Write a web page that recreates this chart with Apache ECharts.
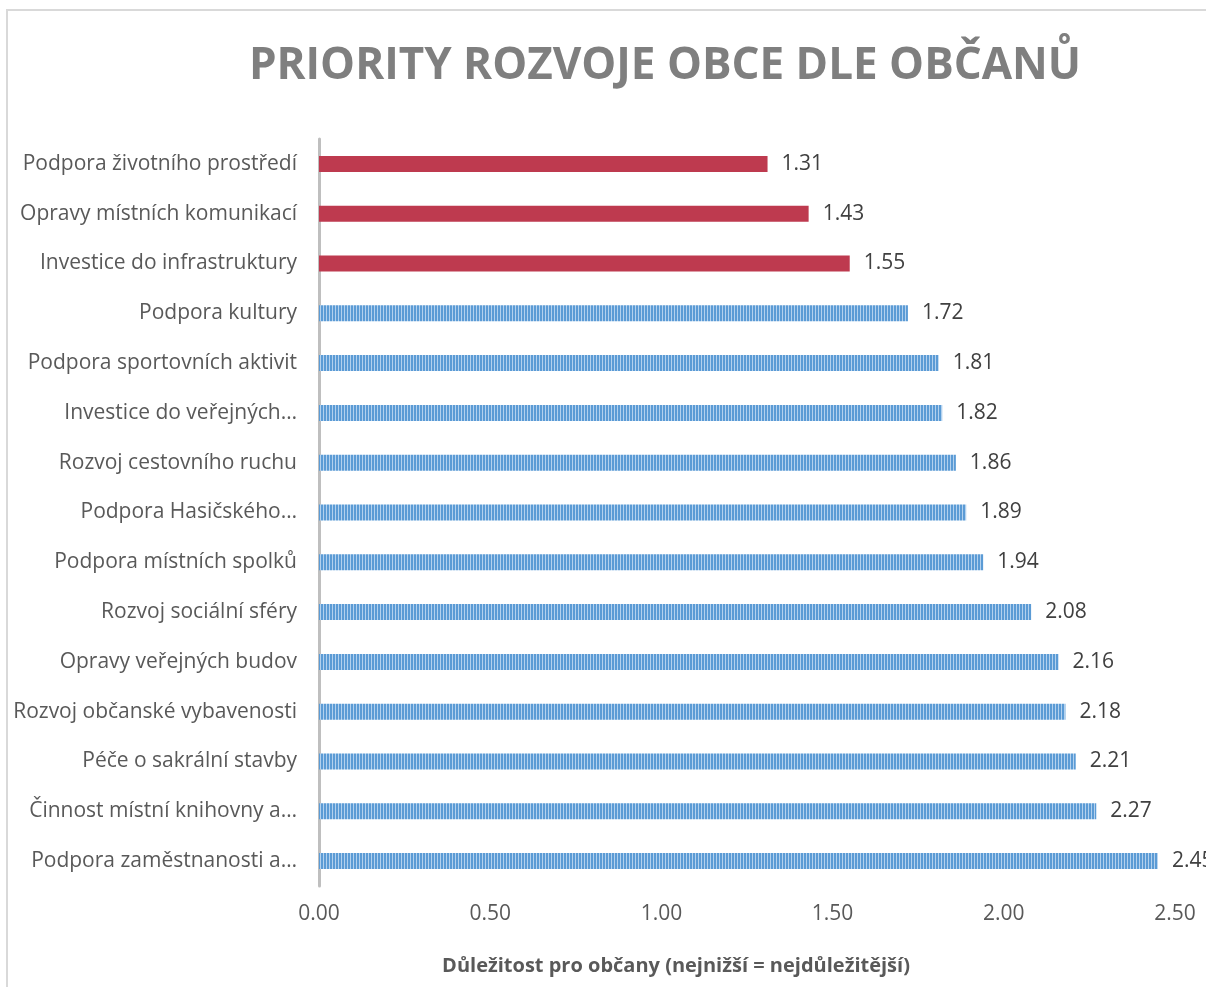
<!DOCTYPE html>
<html>
<head>
<meta charset="utf-8">
<script src="https://cdn.jsdelivr.net/npm/echarts@6/dist/echarts.min.js"></script>
<style>
	html, body { margin: 0; padding: 0; background: #fff; }
	#chart { width: 1206px; height: 987px; }
</style>
</head>
<body>
<div id="chart"></div>
<script>
	// kategorie shora dolů, tak jak jsou v grafu
	var categories = [
		'Podpora životního prostředí',
		'Opravy místních komunikací',
		'Investice do infrastruktury',
		'Podpora kultury',
		'Podpora sportovních aktivit',
		'Investice do veřejných…',
		'Rozvoj cestovního ruchu',
		'Podpora Hasičského…',
		'Podpora místních spolků',
		'Rozvoj sociální sféry',
		'Opravy veřejných budov',
		'Rozvoj občanské vybavenosti',
		'Péče o sakrální stavby',
		'Činnost místní knihovny a…',
		'Podpora zaměstnanosti a…'
	]
	var values = [1.31, 1.43, 1.55, 1.72, 1.81, 1.82, 1.86, 1.89, 1.94, 2.08, 2.16, 2.18, 2.21, 2.27, 2.45]
	// tři nejdůležitější priority jsou červeně
	var topPriority = [true, true, true, false, false, false, false, false, false, false, false, false, false, false, false]
	var xTicks = [0, 0.5, 1, 1.5, 2, 2.5]

	var chart = echarts.init(document.getElementById('chart'))

	// pruhovaná výplň jako v Excelu
	var cnv = document.createElement('canvas')
	cnv.width = 3
	cnv.height = 16
	var ctx = cnv.getContext('2d')
	ctx.fillStyle = '#5b9bd5'
	ctx.fillRect(0, 0, 2, 16)
	ctx.fillStyle = '#b3d1ee'
	ctx.fillRect(2, 0, 1, 16)

	var seriesData = []
	for (var i = 0; i < values.length; i++) {
		seriesData.push({
			value: values[i],
			itemStyle: {
				color: topPriority[i] ? '#be3a4f' : {image: cnv, repeat: 'repeat'}
			}
		})
	}

	var font = '"Open Sans", "DejaVu Sans", sans-serif'

	chart.setOption({
		animation: false,
		textStyle: {fontFamily: font},
		graphic: [{
			type: 'rect',
			shape: {x: 7, y: 10, width: 1400, height: 1200},
			style: {fill: 'none', stroke: '#d9d9d9', lineWidth: 2},
			silent: true
		}, {
			type: 'text',
			x: 665,
			y: 66,
			style: {
				text: 'PRIORITY ROZVOJE OBCE DLE OBČANŮ',
				fill: '#7f7f7f',
				font: 'bold 44px ' + font,
				align: 'center',
				verticalAlign: 'middle'
			}
		}, {
			type: 'text',
			x: 676,
			y: 966,
			style: {
				text: 'Důležitost pro občany (nejnižší = nejdůležitější)',
				fill: '#595959',
				font: 'bold 20px ' + font,
				align: 'center',
				verticalAlign: 'middle'
			}
		}],
		grid: {
			left: 319,
			right: 31,
			top: 139,
			bottom: 101,
			containLabel: false
		},
		xAxis: {
			type: 'value',
			min: xTicks[0],
			max: xTicks[xTicks.length - 1],
			interval: 0.5,
			axisLine: {show: false},
			axisTick: {show: false},
			splitLine: {show: false},
			axisLabel: {
				color: '#595959',
				fontSize: 21,
				margin: 18,
				formatter: function(v) { return v.toFixed(2) }
			}
		},
		yAxis: {
			type: 'category',
			inverse: true,
			data: categories,
			axisLine: {lineStyle: {color: '#bfbfbf', width: 3}},
			axisTick: {show: false},
			axisLabel: {
				color: '#595959',
				fontSize: 21,
				margin: 22
			}
		},
		series: [{
			type: 'bar',
			barWidth: 16,
			data: seriesData,
			label: {
				show: true,
				position: 'right',
				distance: 14,
				color: '#404040',
				fontSize: 21,
				formatter: function(p) { return p.value.toFixed(2) }
			}
		}]
	})
</script>
</body>
</html>
